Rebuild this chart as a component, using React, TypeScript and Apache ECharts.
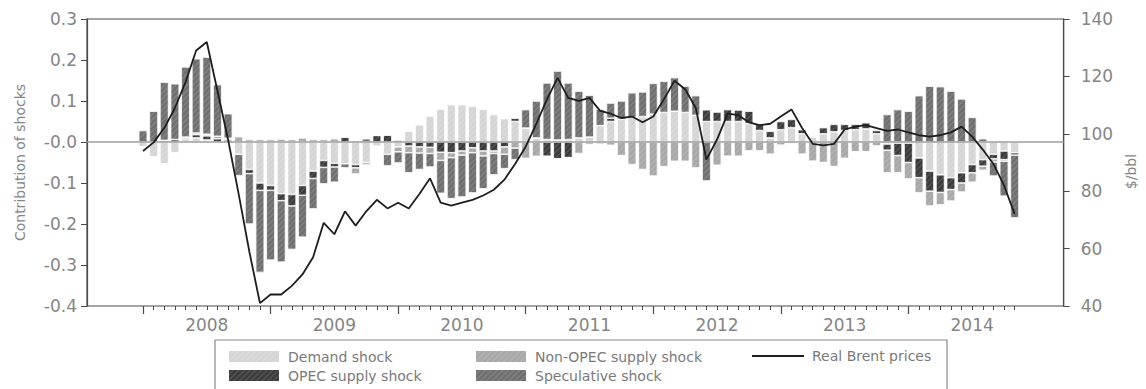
import { useEffect, useRef } from "react";
import * as echarts from "echarts";

// Monthly shock contributions, Jan 2008 – Nov 2014
const yearLabels = ["2008", "2009", "2010", "2011", "2012", "2013", "2014"];
const shockTickLabels = ["-0.4", "-0.3", "-0.2", "-0.1", "-0.0", "0.1", "0.2", "0.3"];
const priceTickLabels = ["40", "60", "80", "100", "120", "140"];

const demandShock = [
  -0.012, -0.037, -0.053, -0.026, 0.008, 0.01, 0.005, 0, 0, -0.03, -0.067, -0.1,
  -0.106, -0.126, -0.128, -0.106, -0.071, -0.045, -0.052, -0.053, -0.055, -0.05, -0.01, -0.03,
  -0.012, 0.026, 0.042, 0.063, 0.08, 0.091, 0.091, 0.087, 0.08, 0.067, 0.057, 0.05,
  0.034, 0.01, 0.006, 0.005, 0.006, 0.01, 0.012, 0.04, 0.05, 0.055, 0.06, 0.062,
  0.068, 0.072, 0.075, 0.072, 0.065, 0.05, 0.05, 0.05, 0.05, 0.045, 0.028, 0.01,
  0.03, 0.035, 0.02, 0.012, 0.02, 0.025, 0.028, 0.03, 0.032, 0.02, -0.005, -0.003,
  -0.003, -0.039, -0.071, -0.08, -0.087, -0.075, -0.055, -0.043, -0.03, -0.022, -0.026,
];

const opecShock = [
  0, 0, 0.004, 0.006, 0.004, 0.008, 0.01, 0.008, 0.005, 0, -0.01, -0.018,
  -0.012, -0.017, -0.028, -0.024, -0.018, -0.017, -0.009, 0.012, -0.008, 0, 0.016, 0.017,
  0.004, -0.01, -0.012, -0.013, -0.025, -0.026, -0.022, -0.014, -0.022, -0.022, -0.012, 0.008,
  0, 0, -0.035, -0.041, -0.038, 0, 0, 0, 0.008, 0, 0, 0,
  0, 0, 0, 0, 0, 0.029, 0.023, 0.029, 0.028, 0.03, 0.015, 0.016,
  0.02, 0.02, 0.01, 0, 0.015, 0.018, 0.015, 0.013, 0.015, 0.008, -0.015, -0.03,
  -0.047, -0.048, -0.049, -0.043, -0.029, -0.025, -0.02, -0.016, -0.011, -0.021, -0.006,
];

const nonOpecShock = [
  0, 0, 0, 0, 0, 0.004, 0.004, 0.006, 0.004, 0.013, 0.006, 0.006,
  0.006, 0.007, 0.006, 0.01, 0.006, 0.006, 0.008, 0, -0.015, -0.006, 0, 0,
  -0.012, -0.016, -0.015, -0.015, -0.02, -0.012, -0.01, -0.012, -0.012, -0.006, -0.018, -0.015,
  -0.04, -0.035, 0, 0, 0, -0.028, -0.006, -0.005, -0.008, -0.033, -0.055, -0.067,
  -0.083, -0.06, -0.047, -0.047, -0.063, 0, -0.057, -0.035, -0.035, -0.022, -0.022, -0.03,
  -0.008, -0.005, -0.03, -0.047, -0.05, -0.06, -0.04, -0.024, -0.024, -0.01, -0.055, -0.042,
  -0.04, -0.037, -0.036, -0.03, -0.028, -0.022, -0.023, -0.01, -0.008, -0.004, 0.003,
];

const speculativeShock = [
  0.028, 0.075, 0.142, 0.136, 0.171, 0.181, 0.188, 0.126, 0.06, -0.052, -0.123, -0.2,
  -0.17, -0.15, -0.106, -0.102, -0.074, -0.04, -0.037, -0.01, 0.003, 0.008, 0, -0.028,
  -0.027, -0.049, -0.04, -0.033, -0.08, -0.1, -0.102, -0.098, -0.08, -0.052, -0.035, -0.028,
  0.045, 0.09, 0.138, 0.168, 0.138, 0.114, 0.102, 0.04, 0.037, 0.045, 0.06, 0.06,
  0.075, 0.076, 0.082, 0.064, 0.048, -0.095, 0, 0, 0, 0, 0, 0,
  0, 0, 0, 0, 0, 0, 0, 0, 0, 0, 0.067, 0.079,
  0.075, 0.113, 0.136, 0.135, 0.124, 0.105, 0.06, 0.008, -0.034, -0.085, -0.153,
];

const realBrent = [
  94, 97, 102, 109, 118, 129, 132, 115, 98, 79, 59, 41,
  44, 44, 47, 51, 57, 69, 65, 73, 68, 73, 77, 74,
  76, 74, 79, 84.5, 76, 75, 76, 77, 78.5, 80.5, 84, 89.5,
  95.5, 103.5, 112, 119.5, 112.5, 111.5, 112.5, 108, 107, 105.5, 106, 104,
  106, 112, 118.5, 115.5, 109, 91, 98, 107, 106.5, 104, 103, 103.5,
  106, 108.5, 102, 96.5, 96, 96.5, 101.5, 102.5, 103, 102, 101, 101.5,
  100.5, 99.5, 99, 99.5, 100.5, 102.5, 99, 94.5, 89.5, 82, 72,
];

const months = realBrent.map(
  (_, i) => `${yearLabels[Math.floor(i / 12)]}-${String((i % 12) + 1).padStart(2, "0")}`
);

const FONT = "DejaVu Sans";
const AXIS_COLOR = "#4a4a4a";
const LABEL_COLOR = "#858585";
const LINE_COLOR = "#1e1e1e";

const SHOCK_COLORS = {
  demand: "#d5d5d5",
  opec: "#3c3c3c",
  nonOpec: "#a8a8a8",
  speculative: "#707070",
};

// fine diagonal hatching laid over every shock fill
const hatch = {
  symbol: "rect",
  symbolSize: 1,
  dashArrayX: [1, 0],
  dashArrayY: [1, 3],
  rotation: -Math.PI / 4,
  color: "rgba(255,255,255,0.16)",
};

function buildOption(): echarts.EChartsOption {
  const barSeries = [
    { name: "Demand shock", values: demandShock, color: SHOCK_COLORS.demand },
    { name: "OPEC supply shock", values: opecShock, color: SHOCK_COLORS.opec },
    { name: "Non-OPEC supply shock", values: nonOpecShock, color: SHOCK_COLORS.nonOpec },
    { name: "Speculative shock", values: speculativeShock, color: SHOCK_COLORS.speculative },
  ].map((s) => ({
    name: s.name,
    type: "bar" as const,
    stack: "shocks",
    xAxisIndex: 1,
    yAxisIndex: 2,
    barCategoryGap: "20%",
    data: s.values,
    z: 2,
    itemStyle: { color: s.color, borderColor: "#ffffff", borderWidth: 0.5, decal: hatch },
  }));

  const legendBase = {
    orient: "horizontal" as const,
    padding: 0,
    itemWidth: 52,
    itemHeight: 13,
    selectedMode: false,
    textStyle: {
      fontFamily: FONT,
      fontSize: 14,
      color: "#7a7a7a",
      padding: [0, 0, 0, 3],
    },
  };

  const hiddenAxisBits = {
    axisLine: { show: false, onZero: false },
    axisTick: { show: false },
    axisLabel: { show: false },
    splitLine: { show: false },
  };

  return {
    animation: false,
    backgroundColor: "#ffffff",
    aria: { enabled: false, decal: { show: false } },
    grid: [
      // outer frame holding the two value axes
      {
        left: 87,
        right: 77,
        top: 19,
        bottom: 83,
        show: true,
        borderColor: AXIS_COLOR,
        borderWidth: 1.2,
        backgroundColor: "transparent",
      },
      // monthly slots, padded inside the frame
      { left: 137.7, right: 126, top: 19, bottom: 83 },
    ],
    xAxis: [
      { type: "value", gridIndex: 0, min: 0, max: 1, show: false, ...hiddenAxisBits },
      {
        type: "category",
        gridIndex: 1,
        data: months,
        boundaryGap: true,
        position: "bottom",
        axisLine: { show: false, onZero: false },
        axisTick: {
          show: true,
          alignWithLabel: true,
          interval: 0,
          length: 4,
          lineStyle: { color: AXIS_COLOR, width: 1 },
        },
        axisLabel: {
          interval: (i: number) => i % 12 === 6,
          formatter: (v: string) => v.slice(0, 4),
          color: LABEL_COLOR,
          fontFamily: FONT,
          fontSize: 17,
          margin: 10,
        },
        splitLine: { show: false },
      },
      {
        type: "category",
        gridIndex: 1,
        data: months,
        boundaryGap: true,
        position: "bottom",
        axisLine: { show: false, onZero: false },
        axisTick: {
          show: true,
          alignWithLabel: true,
          interval: (i: number) => i % 12 === 0,
          length: 8,
          lineStyle: { color: AXIS_COLOR, width: 1.2 },
        },
        axisLabel: { show: false },
        splitLine: { show: false },
      },
    ],
    yAxis: [
      {
        type: "value",
        gridIndex: 0,
        position: "left",
        min: -0.4,
        max: 0.3,
        interval: 0.1,
        name: "Contribution of shocks",
        nameLocation: "middle",
        nameRotate: 90,
        nameGap: 60,
        nameTextStyle: { fontFamily: FONT, fontSize: 14, color: LABEL_COLOR },
        axisLine: { show: true, onZero: false, lineStyle: { color: AXIS_COLOR, width: 1.2 } },
        axisTick: { show: true, length: 6, lineStyle: { color: AXIS_COLOR } },
        axisLabel: {
          formatter: (v: number) => shockTickLabels[Math.round(v * 10) + 4],
          color: LABEL_COLOR,
          fontFamily: FONT,
          fontSize: 17,
          margin: 10,
        },
        splitLine: { show: false },
      },
      {
        type: "value",
        gridIndex: 0,
        position: "right",
        min: 40,
        max: 140,
        interval: 20,
        name: "$/bbl",
        nameLocation: "middle",
        nameRotate: 90,
        nameGap: 53,
        nameTextStyle: { fontFamily: FONT, fontSize: 14, color: LABEL_COLOR, padding: [0, 18, 0, 0] },
        axisLine: { show: true, onZero: false, lineStyle: { color: AXIS_COLOR, width: 1.2 } },
        axisTick: { show: true, length: 6, lineStyle: { color: AXIS_COLOR } },
        axisLabel: {
          formatter: (v: number) => priceTickLabels[Math.round((v - 40) / 20)],
          color: LABEL_COLOR,
          fontFamily: FONT,
          fontSize: 17,
          margin: 17,
        },
        splitLine: { show: false },
      },
      { type: "value", gridIndex: 1, min: -0.4, max: 0.3, show: false, ...hiddenAxisBits },
      { type: "value", gridIndex: 1, min: 40, max: 140, show: false, ...hiddenAxisBits },
    ],
    legend: [
      { ...legendBase, icon: "rect", left: 227, top: 349, data: ["Demand shock"] },
      { ...legendBase, icon: "rect", left: 227, top: 368, data: ["OPEC supply shock"] },
      { ...legendBase, icon: "rect", left: 474, top: 349, data: ["Non-OPEC supply shock"] },
      { ...legendBase, icon: "rect", left: 474, top: 368, data: ["Speculative shock"] },
      {
        ...legendBase,
        icon: "rect",
        itemHeight: 2,
        itemStyle: { color: LINE_COLOR, decal: "none" },
        left: 752,
        top: 349,
        data: ["Real Brent prices"],
      },
    ],
    graphic: [
      {
        type: "rect",
        silent: true,
        z: 0,
        shape: { x: 215, y: 340, width: 732, height: 60 },
        style: { fill: "none", stroke: "#8a8a8a", lineWidth: 1.2 },
      },
    ],
    series: [
      ...barSeries,
      {
        name: "zero",
        type: "line",
        xAxisIndex: 0,
        yAxisIndex: 0,
        data: [],
        silent: true,
        z: 3,
        markLine: {
          silent: true,
          symbol: ["none", "none"],
          label: { show: false },
          lineStyle: { color: "#9c9c9c", width: 1.5, type: "solid" },
          data: [{ yAxis: 0 }],
        },
      },
      {
        name: "Real Brent prices",
        type: "line",
        xAxisIndex: 1,
        yAxisIndex: 3,
        data: realBrent,
        symbol: "none",
        showSymbol: false,
        z: 5,
        lineStyle: { color: LINE_COLOR, width: 1.8 },
        itemStyle: { color: LINE_COLOR },
      },
    ],
  } as echarts.EChartsOption;
}

export default function App() {
  const ref = useRef<HTMLDivElement>(null);

  useEffect(() => {
    if (!ref.current) return;
    const chart = echarts.init(ref.current, undefined, { renderer: "svg" });
    chart.setOption(buildOption());
    return () => chart.dispose();
  }, []);

  return (
    <div
      ref={ref}
      style={{ position: "absolute", left: 0, top: 0, width: 1146, height: 389, background: "#fff" }}
    />
  );
}
